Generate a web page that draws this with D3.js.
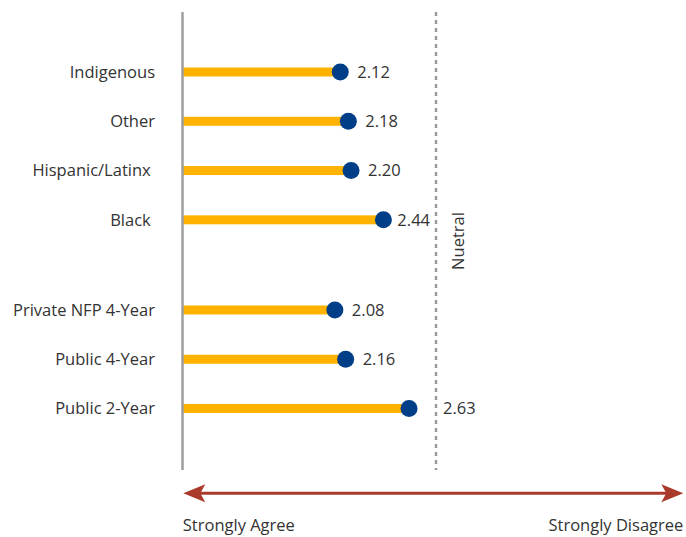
<!DOCTYPE html>
<html>
<head>
<meta charset="utf-8">
<script src="https://cdn.jsdelivr.net/npm/d3@7"></script>
<style>
  html, body { margin: 0; padding: 0; background: #fff; }
  svg { display: block; }
  text { font-family: "Open Sans", "Noto Sans", sans-serif; fill: #333; }
</style>
</head>
<body>
<script>
// ---- Data ----
const groupACategories = ["Indigenous", "Other", "Hispanic/Latinx ", "Black "];
const groupAValues = [2.12, 2.18, 2.20, 2.44];
const groupBCategories = ["Private NFP 4-Year", "Public 4-Year", "Public 2-Year"];
const groupBValues = [2.08, 2.16, 2.63];
const neutralLabel = "Nuetral";
const scaleEndLabels = ["Strongly Agree", "Strongly Disagree"];

// ---- Layout ----
const W = 686, H = 537;
const axisX = 182.5, neutralX = 436;
const plotTop = 12, plotBottom = 470;
const groupGap = 0.83;
const barColor = "#FFB300", dotColor = "#003F87", arrowColor = "#A93A2C";
const fontSize = 16.5;

const rows = [];
groupACategories.forEach((c, i) => rows.push({ cat: c, val: groupAValues[i], pos: i }));
groupBCategories.forEach((c, j) => rows.push({ cat: c, val: groupBValues[j], pos: groupACategories.length + groupGap + j }));

const x = d3.scaleLinear().domain([0.95, 2.83]).range([axisX, neutralX]);
const y = d3.scaleLinear()
  .domain([0, d3.max(rows, d => d.pos)])
  .range([72, 408.5]);

const svg = d3.select("body").append("svg").attr("width", W).attr("height", H);

// bars
svg.append("g").selectAll("rect").data(rows).join("rect")
  .attr("x", axisX)
  .attr("y", d => y(d.pos) - 4.5)
  .attr("width", d => x(d.val) - axisX)
  .attr("height", 9)
  .attr("fill", barColor);

// left axis line
svg.append("line")
  .attr("x1", axisX).attr("x2", axisX)
  .attr("y1", plotTop).attr("y2", plotBottom)
  .attr("stroke", "#9E9E9E").attr("stroke-width", 2.5);

// neutral dotted line
svg.append("line")
  .attr("x1", neutralX).attr("x2", neutralX)
  .attr("y1", plotTop).attr("y2", plotBottom)
  .attr("stroke", "#9A9A9A").attr("stroke-width", 2.5)
  .attr("stroke-dasharray", "4,4");

svg.append("text")
  .attr("transform", `translate(${neutralX + 28},${241}) rotate(-90)`)
  .attr("text-anchor", "middle")
  .attr("font-size", fontSize)
  .text(neutralLabel);

// category labels
svg.append("g").selectAll("text").data(rows).join("text")
  .attr("x", axisX - 27.5)
  .attr("y", d => y(d.pos))
  .attr("dy", "0.35em")
  .attr("text-anchor", "end")
  .attr("font-size", fontSize)
  .style("white-space", "pre")
  .text(d => d.cat);

// dots
const r = 8.5;
svg.append("g").selectAll("circle").data(rows).join("circle")
  .attr("cx", d => x(d.val))
  .attr("cy", d => y(d.pos))
  .attr("r", r)
  .attr("fill", dotColor);

// value labels (avoid the neutral line)
const vl = svg.append("g").selectAll("text").data(rows).join("text")
  .attr("y", d => y(d.pos))
  .attr("dy", "0.35em")
  .attr("font-size", fontSize)
  .text(d => d.val.toFixed(2));
vl.each(function(d) {
  const w = this.getComputedTextLength();
  const cx = x(d.val);
  let lx = cx + 17;
  if (lx + w > neutralX - 4) {
    const alt = neutralX - 6 - w;
    lx = (alt >= cx + r + 3) ? alt : neutralX + 7;
  }
  d3.select(this).attr("x", lx);
});

// arrow
const ay = 493.3, aL = 183.3, aR = 683.3;
svg.append("line")
  .attr("x1", aL + 15).attr("x2", aR - 15)
  .attr("y1", ay).attr("y2", ay)
  .attr("stroke", arrowColor).attr("stroke-width", 3);
svg.append("path")
  .attr("d", `M${aL},${ay} L${aL + 22},${ay - 9} L${aL + 17},${ay} L${aL + 22},${ay + 9} Z`)
  .attr("fill", arrowColor);
svg.append("path")
  .attr("d", `M${aR},${ay} L${aR - 22},${ay - 9} L${aR - 17},${ay} L${aR - 22},${ay + 9} Z`)
  .attr("fill", arrowColor);

svg.append("text")
  .attr("x", aL - 0.5).attr("y", 531)
  .attr("font-size", fontSize)
  .text(scaleEndLabels[0]);
svg.append("text")
  .attr("x", aR).attr("y", 531)
  .attr("text-anchor", "end")
  .attr("font-size", fontSize)
  .text(scaleEndLabels[1]);
</script>
</body>
</html>
